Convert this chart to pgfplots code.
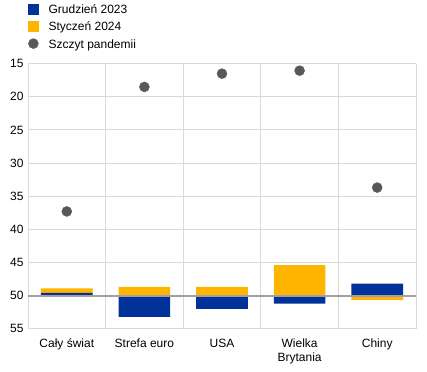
\documentclass[border=0pt]{standalone}
\usepackage{pgfplots}
\pgfplotsset{compat=1.18}
\usepackage{fontspec}
\setmainfont{Liberation Sans}
\definecolor{ecbblue}{RGB}{0,50,153}
\definecolor{ecbyellow}{RGB}{255,180,0}
\definecolor{dotgray}{RGB}{88,88,88}
\definecolor{gridgray}{RGB}{217,217,217}
\definecolor{basegray}{RGB}{160,160,160}
\begin{document}
\begin{tikzpicture}
\path[use as bounding box] (0,0) rectangle (427bp,372bp);
\begin{axis}[
  at={(28bp,43.3bp)}, anchor=south west,
  scale only axis, width=388bp, height=265bp,
  xmin=-0.5, xmax=4.5, ymin=15, ymax=55,
  y dir=reverse,
  y coord trafo/.code={\pgfmathparse{#1-50}},
  y coord inv trafo/.code={\pgfmathparse{#1+50}},
  ytick={15,20,25,30,35,40,45,50,55},
  yticklabels={15,20,25,30,35,40,45,50,55},
  xtick={0,1,2,3,4},
  xticklabels={Cały świat,Strefa euro,USA,{Wielka\\Brytania},Chiny},
  x tick label style={align=center, yshift=-6.5bp, font=\fontsize{12bp}{14.5bp}\selectfont},
  y tick label style={xshift=-1bp},
  minor xtick={-0.5,0.5,1.5,2.5,3.5,4.5},
  xminorgrids=true, ymajorgrids=true,
  grid style={gridgray, line width=1bp},
  minor grid style={gridgray, line width=1bp},
  axis line style={draw=none},
  major tick length=0pt, minor tick length=0pt,
  tick label style={text=black},
  y tick label style={font=\fontsize{12bp}{15bp}\selectfont},
  /pgf/number format/assume math mode=true,
  legend style={at={(axis description cs:0,1.231)}, anchor=north west, draw=none, fill=none,
    font=\fontsize{12bp}{15bp}\selectfont, row sep=3bp, inner sep=0pt,
    /tikz/every odd column/.append style={column sep=8bp}},
  legend cell align=left,
  clip=false,
]
\addlegendimage{legend image code/.code={\fill[ecbblue] (0bp,-4.2bp) rectangle (10bp,5.8bp);}}
\addlegendentry{Grudzień 2023}
\addlegendimage{legend image code/.code={\fill[ecbyellow] (0bp,-4.2bp) rectangle (10bp,5.8bp);}}
\addlegendentry{Styczeń 2024}
\addlegendimage{legend image code/.code={\fill[dotgray] (5bp,0.8bp) circle (5bp);}}
\addlegendentry{Szczyt pandemii}
\addplot[ybar, bar width=0.665, bar shift=0pt, fill=ecbyellow, draw=none, forget plot]
  coordinates {(0,48.9) (1,48.7) (2,48.7) (3,45.4) (4,50.7)};
\addplot[ybar, bar width=0.665, bar shift=0pt, fill=ecbblue, draw=none, forget plot]
  coordinates {(0,49.6) (1,53.2) (2,52.0) (3,51.2) (4,48.2)};
\addplot[basegray, line width=2bp, forget plot] coordinates {(-0.5,50) (4.5,50)};
\addplot[only marks, mark=*, mark size=5bp, mark options={fill=dotgray, draw=dotgray}, forget plot]
  coordinates {(0,37.3) (1,18.5) (2,16.5) (3,16.05) (4,33.7)};
\end{axis}
\end{tikzpicture}
\end{document}
